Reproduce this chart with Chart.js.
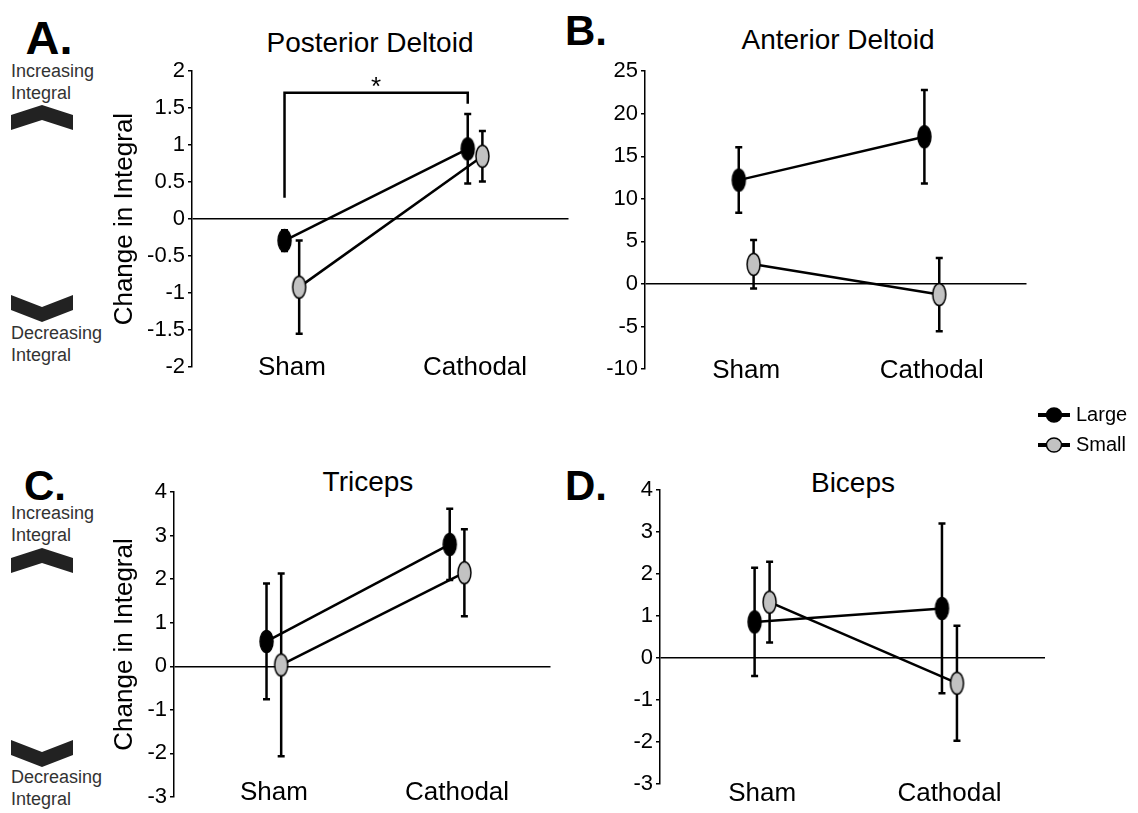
<!DOCTYPE html>
<html>
<head>
<meta charset="utf-8">
<script src="https://cdn.jsdelivr.net/npm/chart.js@4"></script>
<style>
  body { margin: 0; width: 1138px; height: 813px; background: #fff; position: relative; overflow: hidden;
         font-family: "Liberation Sans", Arial, sans-serif; }
  canvas { position: absolute; }
  .t { position: absolute; transform: translate(-50%, -50%); line-height: 1; white-space: nowrap; color: #000; }
  .lt { font-size: 42px; font-weight: bold; }
  .ttl { font-size: 28px; }
  .side { position: absolute; left: 11px; font-size: 18px; line-height: 22px; color: #333; }
  svg { position: absolute; }
</style>
</head>
<body>

<div class="t lt" style="left:49px;top:37px;font-size:47px">A.</div>
<div class="t ttl" style="left:370px;top:43px">Posterior Deltoid</div>
<div class="t lt" style="left:586px;top:31px">B.</div>
<div class="t ttl" style="left:838px;top:40px">Anterior Deltoid</div>
<div class="t lt" style="left:45px;top:486px">C.</div>
<div class="t ttl" style="left:368px;top:482px">Triceps</div>
<div class="t lt" style="left:586px;top:486px">D.</div>
<div class="t ttl" style="left:853px;top:483px">Biceps</div>

<div class="side" style="top:60px">Increasing<br>Integral</div>
<svg style="left:11px;top:105px" width="62" height="26"><polygon points="0,10 31,0 62,10 62,25 31,15 0,25" fill="#222"/></svg>
<svg style="left:11px;top:295px" width="62" height="27"><polygon points="0,0 31,12 62,0 62,15 31,27 0,15" fill="#222"/></svg>
<div class="side" style="top:322px">Decreasing<br>Integral</div>

<div class="side" style="top:502px">Increasing<br>Integral</div>
<svg style="left:11px;top:548px" width="62" height="26"><polygon points="0,10 31,0 62,10 62,25 31,15 0,25" fill="#222"/></svg>
<svg style="left:11px;top:740px" width="62" height="27"><polygon points="0,0 31,12 62,0 62,15 31,27 0,15" fill="#222"/></svg>
<div class="side" style="top:766px">Decreasing<br>Integral</div>

<canvas id="cA" width="482" height="340" style="left:95px;top:55px"></canvas>
<canvas id="cB" width="435" height="340" style="left:600px;top:55px"></canvas>
<canvas id="cC" width="464" height="337" style="left:95px;top:476px"></canvas>
<canvas id="cD" width="538" height="413" style="left:600px;top:400px"></canvas>

<script>
// ---- data ----
const categories = ['Sham', 'Cathodal'];
const seriesNames = ['Large', 'Small'];

// Posterior Deltoid
const postLarge = [-0.29, 0.95];
const postLargeErr = [0.14, 0.47];
const postSmall = [-0.92, 0.85];
const postSmallErr = [0.63, 0.34];
const postTicks = [-2, -1.5, -1, -0.5, 0, 0.5, 1, 1.5, 2];
// significance bracket: left foot, right foot, top, star
const postSigLegs = [0.29, 1.56];
const postSigTop = 1.71;
const postSigStar = 1.86;

// Anterior Deltoid
const antLarge = [12.2, 17.3];
const antLargeErr = [3.85, 5.5];
const antSmall = [2.3, -1.25];
const antSmallErr = [2.85, 4.3];
const antTicks = [-10, -5, 0, 5, 10, 15, 20, 25];

// Triceps
const triLarge = [0.57, 2.8];
const triLargeErr = [1.33, 0.82];
const triSmall = [0.03, 2.15];
const triSmallErr = [2.1, 1.0];

// Biceps
const bicLarge = [0.86, 1.18];
const bicLargeErr = [1.29, 2.02];
const bicSmall = [1.33, -0.6];
const bicSmallErr = [0.96, 1.37];

const armTicks = [-3, -2, -1, 0, 1, 2, 3, 4];

// ---- styling ----
const FONT = '"Liberation Sans", Arial, sans-serif';
const GRAY = '#c2c2c2';
const DODGE = 0.04;

function ellipseImg(fill) {
  const c = document.createElement('canvas');
  c.width = 17; c.height = 27;
  const g = c.getContext('2d');
  g.beginPath();
  g.ellipse(8.5, 13.5, 6.5, 11, 0, 0, Math.PI * 2);
  g.fillStyle = fill; g.fill();
  g.lineWidth = 1.5; g.strokeStyle = '#000'; g.stroke();
  return c;
}
const blackDot = ellipseImg('#000');
const grayDot = ellipseImg(GRAY);

// vertical error bars under the lines and markers
const errorBars = {
  id: 'errorBars',
  beforeDatasetsDraw(chart) {
    const ctx = chart.ctx, ys = chart.scales.y;
    chart.data.datasets.forEach((ds, di) => {
      chart.getDatasetMeta(di).data.forEach((pt, i) => {
        const v = ds.data[i].y, e = ds.errors[i];
        const top = ys.getPixelForValue(v + e), bot = ys.getPixelForValue(v - e);
        ctx.save();
        ctx.strokeStyle = '#000'; ctx.lineWidth = 2.5;
        ctx.beginPath();
        ctx.moveTo(pt.x, top); ctx.lineTo(pt.x, bot);
        ctx.moveTo(pt.x - 3.5, top); ctx.lineTo(pt.x + 3.5, top);
        ctx.moveTo(pt.x - 3.5, bot); ctx.lineTo(pt.x + 3.5, bot);
        ctx.stroke();
        ctx.restore();
      });
    });
  }
};

// significance bracket for the posterior deltoid
const sigBracket = {
  id: 'sigBracket',
  afterDatasetsDraw(chart) {
    const ctx = chart.ctx, xs = chart.scales.x, ys = chart.scales.y;
    const x0 = xs.getPixelForValue(0 - DODGE), x1 = xs.getPixelForValue(1 - DODGE);
    ctx.save();
    ctx.strokeStyle = '#000'; ctx.lineWidth = 2.5;
    ctx.beginPath();
    ctx.moveTo(x0, ys.getPixelForValue(postSigLegs[0]));
    ctx.lineTo(x0, ys.getPixelForValue(postSigTop));
    ctx.lineTo(x1, ys.getPixelForValue(postSigTop));
    ctx.lineTo(x1, ys.getPixelForValue(postSigLegs[1]));
    ctx.stroke();
    ctx.font = '26px ' + FONT;
    ctx.fillStyle = '#000';
    ctx.textAlign = 'center';
    const m = ctx.measureText('*');
    const cy = ys.getPixelForValue(postSigStar);
    ctx.fillText('*', (x0 + x1) / 2, cy + (m.actualBoundingBoxAscent - m.actualBoundingBoxDescent) / 2);
    ctx.restore();
  }
};

// legend sitting above panel D
const legendD = {
  id: 'legendD',
  afterDraw(chart) {
    const ctx = chart.ctx;
    const lx = chart.width - 100;
    seriesNames.forEach((name, i) => {
      const y = 15 + i * 30;
      ctx.save();
      ctx.strokeStyle = '#000'; ctx.lineWidth = 4;
      ctx.beginPath(); ctx.moveTo(lx, y); ctx.lineTo(lx + 32, y); ctx.stroke();
      ctx.beginPath(); ctx.ellipse(lx + 16, y, 7.5, 7, 0, 0, Math.PI * 2);
      ctx.fillStyle = i === 0 ? '#000' : GRAY; ctx.fill();
      ctx.lineWidth = 1.5; ctx.stroke();
      ctx.fillStyle = '#000'; ctx.font = '20px ' + FONT; ctx.textBaseline = 'middle';
      ctx.fillText(name, lx + 38, y);
      ctx.restore();
    });
  }
};

function makePanel(id, p) {
  return new Chart(document.getElementById(id), {
    type: 'line',
    data: {
      datasets: [
        { label: seriesNames[0], data: p.large.map((v, i) => ({ x: i - DODGE, y: v })), errors: p.largeErr,
          borderColor: '#000', borderWidth: 2.5, pointStyle: blackDot, pointRadius: 6, fill: false, tension: 0 },
        { label: seriesNames[1], data: p.small.map((v, i) => ({ x: i + DODGE, y: v })), errors: p.smallErr,
          borderColor: '#000', borderWidth: 2.5, pointStyle: grayDot, pointRadius: 6, fill: false, tension: 0 }
      ]
    },
    options: {
      responsive: false,
      animation: false,
      layout: { padding: { top: p.padTop, right: p.padRight || 0, left: 0, bottom: 0 } },
      plugins: { legend: { display: false }, tooltip: { enabled: false } },
      scales: {
        x: {
          type: 'linear', min: -0.545, max: 1.51,
          afterBuildTicks: s => { s.ticks = categories.map((c, i) => ({ value: i })); },
          afterFit: s => { s.height = p.xHeight; },
          // mirrored so the labels are not clipped when they sit level with the axis foot
          ticks: { callback: v => categories[v], color: '#000', font: { family: FONT, size: 26 },
                   mirror: true, padding: p.xPad, maxRotation: 0, autoSkip: false },
          grid: { display: false, drawTicks: false },
          border: { display: false }
        },
        y: {
          type: 'linear', min: Math.min(...p.ticks), max: Math.max(...p.ticks),
          afterBuildTicks: s => { s.ticks = p.ticks.map(v => ({ value: v })); },
          afterFit: s => { s.width = p.yWidth; },
          ticks: { callback: v => String(v), color: '#000', font: { family: FONT, size: 22 }, padding: 3, autoSkip: false },
          grid: { color: c => (c.tick && c.tick.value === 0) ? '#000' : 'rgba(0,0,0,0)', lineWidth: 1.5,
                  tickColor: '#000', tickLength: 4, tickWidth: 1.5 },
          border: { display: true, color: '#000', width: 1.5 },
          title: { display: !!p.yTitle, text: p.yTitle || '', color: '#000',
                   font: { family: FONT, size: 26 }, padding: { top: 14 } }
        }
      }
    },
    plugins: [errorBars].concat(p.extra || [])
  });
}

makePanel('cA', { large: postLarge, largeErr: postLargeErr, small: postSmall, smallErr: postSmallErr,
  ticks: postTicks, padTop: 13, yWidth: 97, xHeight: 28, xPad: -16, yTitle: 'Change in Integral', extra: [sigBracket] });
makePanel('cB', { large: antLarge, largeErr: antLargeErr, small: antSmall, smallErr: antSmallErr,
  ticks: antTicks, padTop: 13, yWidth: 45, xHeight: 26, xPad: -17 });
makePanel('cC', { large: triLarge, largeErr: triLargeErr, small: triSmall, smallErr: triSmallErr,
  ticks: armTicks, padTop: 13, yWidth: 79, xHeight: 8, xPad: -12, yTitle: 'Change in Integral' });
makePanel('cD', { large: bicLarge, largeErr: bicLargeErr, small: bicSmall, smallErr: bicSmallErr,
  ticks: armTicks, padTop: 90, padRight: 93, yWidth: 60, xHeight: 29, xPad: -25, extra: [legendD] });
</script>
</body>
</html>
